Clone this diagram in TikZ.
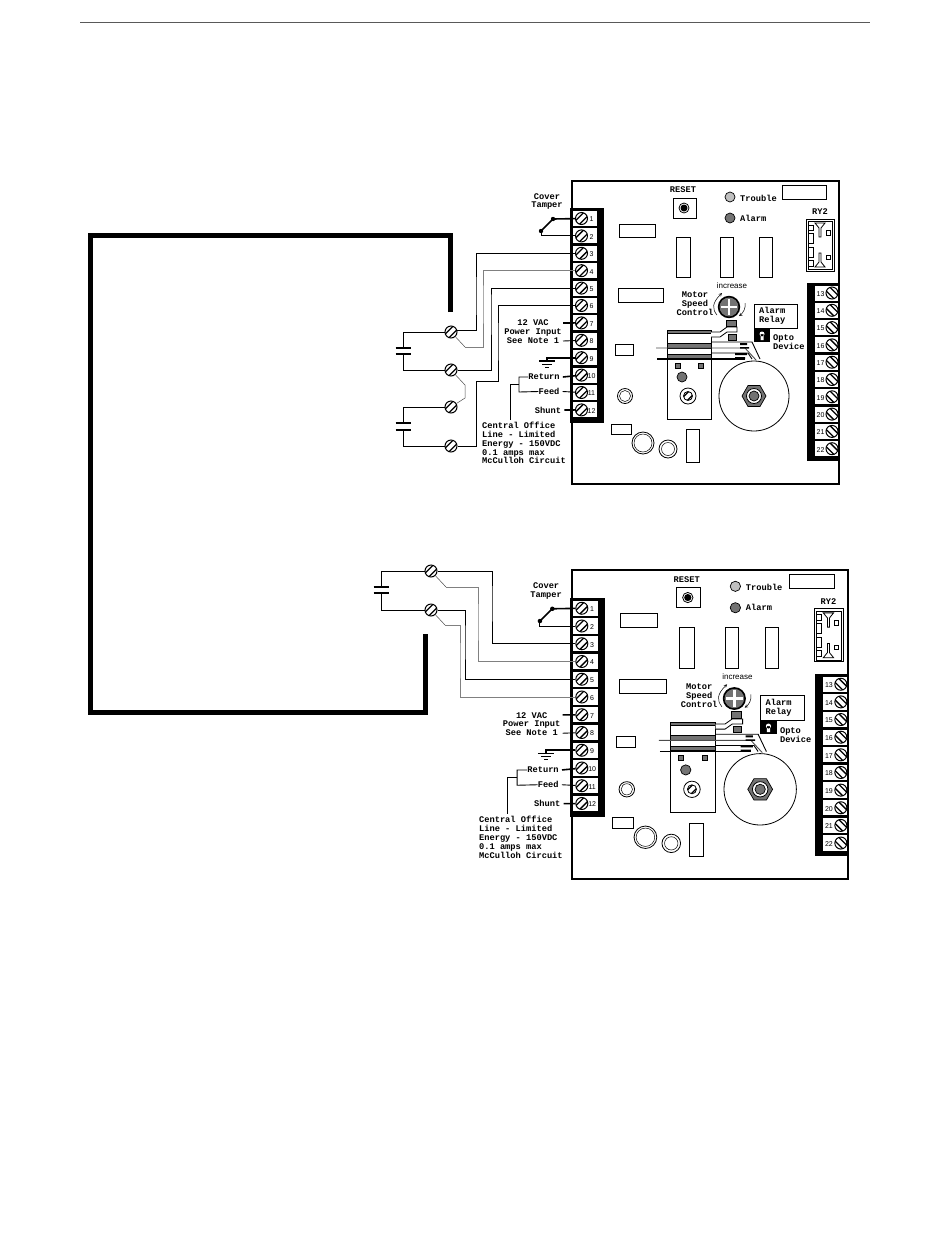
\documentclass[tikz,border=0pt]{standalone}
\usepackage{fontspec}
\newfontfamily\labelmono{Liberation Mono}
\newfontfamily\labelsans{Liberation Sans}
\tikzset{
    wire/.style = {line width = 0.9pt},
    graywire/.style = {line width = 0.9pt, draw = black!50},
    tailwire/.style = {line width = 0.5pt, draw = black!70},
    heavywire/.style = {line width = 1.6pt},
    buswire/.style = {line width = 5pt},
    plate/.style = {line width = 1.3pt},
    part/.style = {draw, line width = 0.8pt, fill = white},
    hatched/.style = {draw, line width = 0.7pt, fill = black!55},
    meshed/.style = {draw, line width = 0.7pt, fill = black!25},
    lbl/.style = {inner sep = 0pt, align = center, font = \labelmono\bfseries\fontsize{8.7}{8.9}\selectfont},
    numlbl/.style = {inner sep = 0pt, font = \labelsans\fontsize{7}{7}\selectfont},
    screw/.style = {shape = circle, draw, fill = white, inner sep = 0pt, minimum size = 12pt, line width = 1pt,
        path picture = {\draw[line width = 1.3pt, shift = {(path picture bounding box.center)}]
            (-6,2.2) -- (2.2,-6) (-2.2,6) -- (6,-2.2);}},
    rscrew/.style = {shape = circle, draw, fill = white, inner sep = 0pt, minimum size = 12pt, line width = 1pt,
        path picture = {\draw[line width = 1.3pt, shift = {(path picture bounding box.center)}]
            (-6,-2.2) -- (2.2,6) (-2.2,-6) -- (6,2.2);}}
}
\newcommand{\drawboard}[5]{%
\begin{scope}[shift = {(#2,#3)}, xscale = #4, yscale = #5, name prefix = #1-]
    \draw[line width = 1.5pt] (0,0) rectangle (267,303);
    \fill (-2,27) rectangle (32,242);
    \fill (235,102) rectangle (267,280);
    \foreach \i in {1,...,12}{
        \pgfmathsetmacro{\ty}{37.5+(\i-1)*17.4}
        \fill[white] (1,\ty-7.5) rectangle (25,\ty+7.5);
        \node[screw] (t\i) at (9.5,\ty) {};
        \node[numlbl] (n\i) at (19.5,\ty+1) {\i};
    }
    \foreach \i in {13,...,22}{
        \pgfmathsetmacro{\ty}{112+(\i-13)*17.3}
        \fill[white] (243,\ty-7.5) rectangle (266,\ty+7.5);
        \node[rscrew] (t\i) at (260,\ty) {};
        \node[numlbl] (n\i) at (248.5,\ty+1) {\i};
    }
    \node[lbl] (reset) at (111,9) {RESET};
    \draw[part] (101,17) rectangle (124,37);
    \draw[part] (112,27) circle (5);
    \fill (112,27) circle (3.5);
    \draw[meshed] (158,16) circle (5);
    \draw[hatched] (158,37) circle (5);
    \node[lbl, anchor = west] (trouble) at (168,17) {Trouble};
    \node[lbl, anchor = west] (alarm) at (168,37) {Alarm};
    \draw[part] (210,4) rectangle (254,18);
    \draw[part] (47,43) rectangle (83,56);
    \draw[part] (46,107) rectangle (91,121);
    \draw[part] (104,56) rectangle (118,96);
    \draw[part] (148,56) rectangle (161,96);
    \draw[part] (187,56) rectangle (200,96);
    \node[lbl] (ry) at (248,31) {RY2};
    \draw[part] (234,38) rectangle (262,90);
    \draw[line width = 0.5pt] (236,40) rectangle (260,88);
    \draw[part] (236,44) rectangle (241,49) (236,52) rectangle (241,62) (236,66) rectangle (241,76) (236,79) rectangle (241,85);
    \draw[part] (254,49) rectangle (258,54) (254,74) rectangle (258,78);
    \draw[part] (243,42) -- (253,42) -- (249,47) -- (249,56) -- (247,56) -- (247,47) -- cycle;
    \draw[part] (243,86) -- (253,86) -- (249,81) -- (249,72) -- (247,72) -- (247,81) -- cycle;
    \node[numlbl, font = \labelsans\fontsize{8}{8}\selectfont] (incr) at (160,105) {increase};
    \node[lbl] (motor) at (123,123) {Motor\\Speed\\Control};
    \draw[hatched] (157,126) circle (10);
    \draw[white, line width = 2.5pt] (149,126) -- (165,126) (157,118) -- (157,134);
    \draw[line width = 1.4pt] (157,126) circle (10.5);
    \draw[-stealth, line width = 0.5pt] (145,134) .. controls (140,128) and (140,122) .. (150,112);
    \draw[-stealth, line width = 0.5pt] (173,122) .. controls (174,127) and (171,132) .. (167,135);
    \draw[part] (182,123) rectangle (225,147);
    \node[lbl, anchor = west, align = left] (relay) at (187,135) {Alarm\\Relay};
    \fill (182,147) rectangle (198,161);
    \fill[white] (190,153) circle (2.5) (188.5,153) rectangle (191.5,159);
    \node[lbl, anchor = west, align = left] (opto) at (201,161.5) {Opto\\Device};
    \draw[part] (95,149) rectangle (139,238);
    \draw[hatched] (95,149) rectangle (139,152);
    \draw[hatched] (95,162) rectangle (139,167);
    \draw[hatched] (95,173) rectangle (139,177);
    \draw[part] (139,151) -- (148,151) -- (155,146) -- (165,146) -- (165,151) -- (155,151) -- (148,156) -- (139,156);
    \draw[hatched] (154,139) rectangle (164,145);
    \draw[hatched] (156,153) rectangle (164,159);
    \draw[part, fill = none] (182,215) circle (35);
    \draw[wire] (139,161) -- (180,161) -- (188,178);
    \draw[wire, black!70] (84,167) -- (173,167) -- (184,179);
    \draw[wire] (139,172) -- (176,172) -- (180,178);
    \draw[heavywire] (85,178) -- (173,178);
    \fill (168,162) rectangle (175,164) (168,166) rectangle (177,167.5)
        (163,172) rectangle (175,174) (163,176) rectangle (173,178);
    \draw[hatched] (103,182) rectangle (108,187);
    \draw[hatched] (126,182) rectangle (131,187);
    \draw[hatched] (110,196) circle (5);
    \draw[part] (116,215) circle (8);
    \node[screw, minimum size = 9pt, line width = 0.8pt] (adj) at (116,215) {};
    \draw[hatched] (170,215) -- (176,204.5) -- (188,204.5) -- (194,215) -- (188,225.5) -- (176,225.5) -- cycle;
    \draw[part] (182,215) circle (7.5);
    \draw[hatched] (182,215) circle (5);
    \draw[part] (43,163) rectangle (61,174);
    \draw[part] (53,215) circle (7.5);
    \draw[line width = 0.5pt] (53,215) circle (5.5);
    \draw[part] (39,243) rectangle (59,253);
    \draw[part] (71,262) circle (11);
    \draw[line width = 0.5pt] (71,262) circle (9);
    \draw[part] (96,268) circle (9);
    \draw[line width = 0.5pt] (96,268) circle (6.5);
    \draw[part] (114,248) rectangle (127,281);
    \node[lbl] (tamper) at (-25,20.5) {Cover\\Tamper};
    \coordinate (tampA) at (-19,38);
    \coordinate (tampB) at (-31,50);
    \draw[heavywire] (t1) -- (tampA) -- (tampB);
    \draw[wire] (t2) -| (tampB);
    \fill (tampA) circle (2.2) (tampB) circle (2.2);
    \node[lbl] (vac) at (-39,151) {12 VAC\\Power Input\\See Note 1};
    \coordinate (vacA) at (-9,142);
    \coordinate (vacB) at (-9,160);
    \draw[heavywire] (t7) -- (vacA);
    \draw[wire] (t8) -- (vacB);
    \coordinate (gnd) at (-25,180);
    \draw[heavywire] (t9) -| (gnd);
    \draw[heavywire] (-33,180) -- (-17,180);
    \draw[wire] (-30,183) -- (-20,183);
    \draw[wire] (-27,186) -- (-23,186);
    \node[lbl] (ret) at (-28,196) {Return};
    \node[lbl] (feed) at (-23,210.5) {Feed};
    \node[lbl] (shunt) at (-24,229) {Shunt};
    \draw[heavywire] (ret.east) ++(3,0) -- (t10);
    \draw[wire] (feed.east) ++(3,0) -- (t11);
    \draw[heavywire] (shunt.east) ++(3,0) -- (t12);
    \coordinate (retA) at (-53,196);
    \coordinate (retB) at (-53,211);
    \coordinate (retC) at (-53,203);
    \coordinate (retD) at (-62,203);
    \coordinate (retE) at (-62,239);
    \draw[wire] (ret.west) -- (retA) -- (retB) -- (feed.west);
    \draw[wire] (retC) -- (retD) -- (retE);
    \node[lbl, anchor = west, align = left] (office) at (-90,262) {Central Office\\Line - Limited\\Energy - 150VDC\\0.1 amps max\\McCulloh Circuit};
\end{scope}
}

\begin{document}
\begin{tikzpicture}[x = 1pt, y = -1pt]
    \useasboundingbox (0,0) rectangle (950,1254);
    \coordinate (ruleA) at (80,22);
    \coordinate (ruleB) at (870,22);
    \draw[line width = 1pt, black!65] (ruleA) -- (ruleB);
    \drawboard{A}{572}{181}{1}{1}
    \drawboard{B}{572}{570}{1.034}{1.02}
    \node[screw] (scrA) at (451,332) {};
    \node[screw] (scrB) at (451,370) {};
    \node[screw] (scrC) at (451,407) {};
    \node[screw] (scrD) at (451,446) {};
    \node[screw] (scrE) at (431,571) {};
    \node[screw] (scrF) at (431,610) {};
    \coordinate (busA) at (450,312);
    \coordinate (busB) at (450,235);
    \coordinate (busC) at (90,235);
    \coordinate (busD) at (90,712);
    \coordinate (busE) at (425,712);
    \coordinate (busF) at (425,634);
    \draw[buswire] (busA) -- (busB) -- (busC) -- (busD) -- (busE) -- (busF);
    \coordinate (capAt) at (403,348);
    \coordinate (capAb) at (403,354);
    \coordinate (capCt) at (403,423);
    \coordinate (capCb) at (403,430);
    \coordinate (capEt) at (381,587);
    \coordinate (capEb) at (381,593);
    \draw[wire] (scrA) -| (capAt) (scrB) -| (capAb);
    \draw[wire] (scrC) -| (capCt) (scrD) -| (capCb);
    \draw[wire] (scrE) -| (capEt) (scrF) -| (capEb);
    \foreach \c in {capAt,capAb,capCt,capCb,capEt,capEb}
        \draw[plate] ([xshift = -7.5pt]\c) -- ([xshift = 7.5pt]\c);
    \coordinate (runA) at (476,300);
    \coordinate (runB) at (483,300);
    \coordinate (runC) at (491,300);
    \coordinate (runD) at (498,340);
    \coordinate (kinkA) at (465,347);
    \coordinate (kinkB) at (465,385);
    \coordinate (kinkC) at (465,398);
    \coordinate (stepD) at (476,381);
    \draw[wire] (scrA.15) -| (runA) |- (A-t3);
    \draw[tailwire] (scrA) -- (kinkA);
    \draw[graywire] (kinkA) -| (runB) |- (A-t4);
    \draw[wire] (scrB) -| (runC) |- (A-t5);
    \draw[tailwire] (scrB) -- (kinkB) -- (kinkC) -- (scrC);
    \draw[wire] (scrD) -| (stepD) -- (stepD -| runD) -- (runD) |- (A-t6);
    \coordinate (runE) at (492,600);
    \coordinate (runF) at (478,620);
    \coordinate (runG) at (465,640);
    \coordinate (runH) at (460,660);
    \coordinate (kinkE) at (446,587);
    \coordinate (kinkF) at (445,625);
    \draw[wire] (scrE) -| (runE) |- (B-t3);
    \draw[tailwire] (scrE) -- (kinkE);
    \draw[graywire] (kinkE) -| (runF) |- (B-t4);
    \draw[wire] (scrF) -| (runG) |- (B-t5);
    \draw[tailwire] (scrF) -- (kinkF);
    \draw[graywire] (kinkF) -| (runH) |- (B-t6);
\end{tikzpicture}
\end{document}
